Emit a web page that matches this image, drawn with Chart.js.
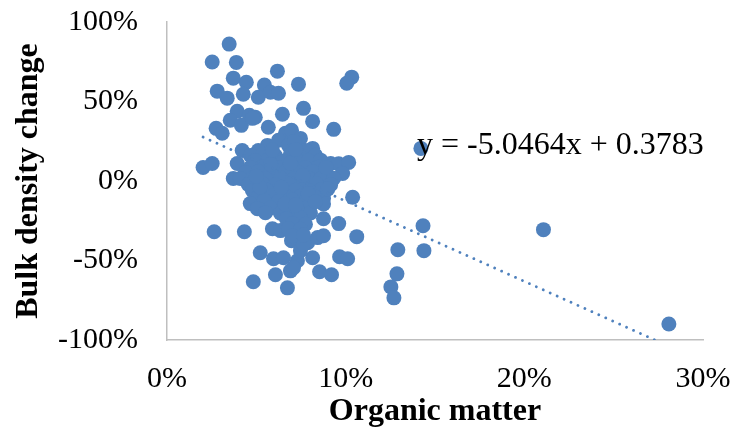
<!DOCTYPE html>
<html>
<head>
<meta charset="utf-8">
<script src="https://cdn.jsdelivr.net/npm/chart.js@4.4.1/dist/chart.umd.min.js"></script>
<style>
  html, body { margin: 0; padding: 0; background: #fff; }
  #wrap { width: 733px; height: 439px; }
</style>
</head>
<body>
<div id="wrap"><canvas id="grafico"></canvas></div>
<script>
// Materia orgánica (fracción) y cambio de densidad aparente (fracción)
var organicMatter = [
  0.0348, 0.0253, 0.0388, 0.0618, 0.0371, 0.0444, 0.0281, 0.0337, 0.0427, 0.0545,
  0.0511, 0.0579, 0.0624, 0.0736, 0.1034, 0.1006, 0.0393, 0.0461, 0.0494, 0.0354,
  0.0646, 0.0764, 0.0815, 0.0275, 0.0309, 0.0416, 0.0567, 0.0933, 0.0663, 0.0697,
  0.0478, 0.0202, 0.0253, 0.0393, 0.0371, 0.0421, 0.0562, 0.0815, 0.0916, 0.0961,
  0.1017, 0.0983, 0.1039, 0.0876, 0.0876, 0.0876, 0.0961, 0.1062, 0.0264, 0.0433,
  0.0590, 0.0635, 0.0522, 0.0596, 0.0652, 0.0815, 0.0966, 0.1011, 0.0730, 0.0691,
  0.0854, 0.0921, 0.0483, 0.0607, 0.0674, 0.0787, 0.0843, 0.0876, 0.0697, 0.0747,
  0.0764, 0.0708, 0.1421, 0.1433, 0.1438, 0.1292, 0.1287, 0.1253, 0.1270, 0.2107,
  0.2809,
  0.0624, 0.0747, 0.0680, 0.0775, 0.0511, 0.0466, 0.0713,
  0.0534, 0.0607, 0.0691, 0.0747, 0.0831,
  0.0494, 0.0567, 0.0652, 0.0725, 0.0792, 0.0860,
  0.0466, 0.0534, 0.0624, 0.0702, 0.0775, 0.0848,
  0.0438, 0.0511, 0.0579, 0.0663, 0.0736, 0.0815, 0.0888,
  0.0410, 0.0478, 0.0556, 0.0635, 0.0713, 0.0792, 0.0860, 0.0933,
  0.0455, 0.0534, 0.0607, 0.0685, 0.0758, 0.0837, 0.0916,
  0.0478, 0.0556, 0.0640, 0.0719, 0.0798, 0.0860,
  0.0511, 0.0590, 0.0669, 0.0747, 0.0826,
  0.0545, 0.0624, 0.0702, 0.0781, 0.0466,
  0.0506, 0.0579, 0.0691, 0.0775,
  0.0551, 0.0635, 0.0736, 0.0803,
  0.0669, 0.0747, 0.0702, 0.0775, 0.0680, 0.0747, 0.0702, 0.0764,
  0.0580, 0.0690, 0.0760, 0.0640, 0.0520, 0.0790, 0.0660, 0.0720,
  0.0830, 0.0500, 0.0900, 0.0890, 0.0590, 0.0720
];
var bulkDensityChange = [
  0.861, 0.748, 0.746, 0.691, 0.647, 0.621, 0.565, 0.521, 0.546, 0.603,
  0.527, 0.558, 0.552, 0.609, 0.653, 0.615, 0.438, 0.413, 0.401, 0.382,
  0.420, 0.457, 0.375, 0.331, 0.300, 0.350, 0.338, 0.325, 0.300, 0.319,
  0.394, 0.085, 0.110, 0.110, 0.016, 0.192, 0.224, 0.205, 0.110, 0.108,
  0.117, 0.047, -0.102, -0.110, -0.145, -0.237, -0.268, -0.350, -0.319, -0.319,
  -0.300, -0.312, -0.451, -0.489, -0.483, -0.483, -0.476, -0.489, -0.502, -0.565,
  -0.571, -0.590, -0.634, -0.590, -0.672, -0.388, -0.356, -0.344, -0.375, -0.438,
  -0.394, -0.546, 0.205, -0.281, -0.438, -0.432, -0.584, -0.666, -0.735, -0.306,
  -0.899,
  0.256, 0.268, 0.224, 0.192, 0.192, 0.161, 0.249,
  0.164, 0.158, 0.169, 0.155, 0.162,
  0.129, 0.134, 0.125, 0.136, 0.127, 0.131,
  0.085, 0.089, 0.081, 0.090, 0.083, 0.087,
  0.054, 0.058, 0.050, 0.056, 0.052, 0.059, 0.053,
  0.016, 0.019, 0.013, 0.020, 0.014, 0.018, 0.012, 0.017,
  -0.022, -0.018, -0.025, -0.020, -0.026, -0.019, -0.023,
  -0.060, -0.056, -0.063, -0.058, -0.062, -0.057,
  -0.098, -0.094, -0.101, -0.096, -0.100,
  -0.123, -0.128, -0.120, -0.126, -0.142,
  -0.174, -0.170, -0.177, -0.172,
  -0.199, -0.203, -0.196, -0.201,
  -0.237, -0.233, -0.268, -0.272, -0.300, -0.304, -0.344, -0.340,
  0.105, 0.112, 0.035, -0.040, -0.038, -0.080, -0.145, -0.150,
  -0.130, 0.030, -0.050, 0.085, 0.195, 0.198
];

// Línea de tendencia lineal
var slope = -5.0464;
var intercept = 0.3783;

var yTicks = [-1, -0.5, 0, 0.5, 1];
var xTicks = [0, 0.1, 0.2, 0.3];

var azul = '#4F81BD';
var serif = '"Liberation Serif", "Times New Roman", serif';

var puntos = organicMatter.map(function (x, i) {
  return { x: x, y: bulkDensityChange[i] };
});

var xMin = Math.min.apply(null, organicMatter);
var xMax = Math.max.apply(null, organicMatter);
var tendencia = [
  { x: xMin, y: slope * xMin + intercept },
  { x: xMax, y: slope * xMax + intercept }
];

function pct(v) {
  return Math.round(v * 100) + '%';
}

// Texto de la ecuación sobre el gráfico
var ecuacion = {
  id: 'ecuacion',
  afterDatasetsDraw: function (chart) {
    var ctx = chart.ctx;
    var area = chart.chartArea;
    ctx.save();
    ctx.font = '32px ' + serif;
    ctx.fillStyle = '#000';
    ctx.textAlign = 'left';
    ctx.textBaseline = 'alphabetic';
    ctx.fillText('y = ' + slope + 'x + ' + intercept, area.left + 250, area.top + 132);
    ctx.restore();
  }
};

var ctx = document.getElementById('grafico').getContext('2d');
var grafico = new Chart(ctx, {
  type: 'scatter',
  data: {
    datasets: [{
      label: 'Bulk density change',
      data: puntos,
      backgroundColor: azul,
      borderWidth: 0,
      pointRadius: 7.5,
      pointHoverRadius: 7.5,
      order: 2
    }, {
      label: 'Lineal',
      type: 'line',
      data: tendencia,
      showLine: true,
      borderColor: azul,
      borderWidth: 2.8,
      borderDash: [0.01, 7.6],
      borderCapStyle: 'round',
      pointRadius: 0,
      fill: false,
      order: 1
    }]
  },
  options: {
    responsive: true,
    maintainAspectRatio: false,
    animation: false,
    events: [],
    layout: { padding: { top: 22, right: 30, left: 0, bottom: 0 } },
    plugins: {
      legend: { display: false },
      tooltip: { enabled: false }
    },
    scales: {
      x: {
        type: 'linear',
        min: 0,
        max: 0.3,
        afterFit: function (s) {
          s.height = 99;
          s.paddingLeft = 0;
          s.paddingRight = 0;
        },
        afterBuildTicks: function (s) { s.ticks = xTicks.map(function (v) { return { value: v }; }); },
        grid: { display: false, drawTicks: false },
        border: { display: true, color: '#BFBFBF', width: 1.5 },
        ticks: {
          padding: 21,
          color: '#000',
          font: { family: serif, size: 30 },
          callback: pct
        },
        title: {
          display: true,
          text: 'Organic matter',
          color: '#000',
          font: { family: serif, size: 32, weight: 'bold' },
          padding: { top: 0, bottom: 8 }
        }
      },
      y: {
        type: 'linear',
        min: -1,
        max: 1,
        afterFit: function (s) {
          s.width = 167;
          s.paddingTop = 0;
          s.paddingBottom = 0;
        },
        afterBuildTicks: function (s) { s.ticks = yTicks.map(function (v) { return { value: v }; }); },
        grid: { display: false, drawTicks: false },
        border: { display: true, color: '#BFBFBF', width: 1.5 },
        ticks: {
          padding: 29,
          color: '#000',
          font: { family: serif, size: 30 },
          callback: pct
        },
        title: {
          display: true,
          text: 'Bulk density change',
          color: '#000',
          font: { family: serif, size: 32, weight: 'bold' },
          padding: { top: 10, bottom: 0 }
        }
      }
    }
  },
  plugins: [ecuacion]
});
</script>
</body>
</html>
